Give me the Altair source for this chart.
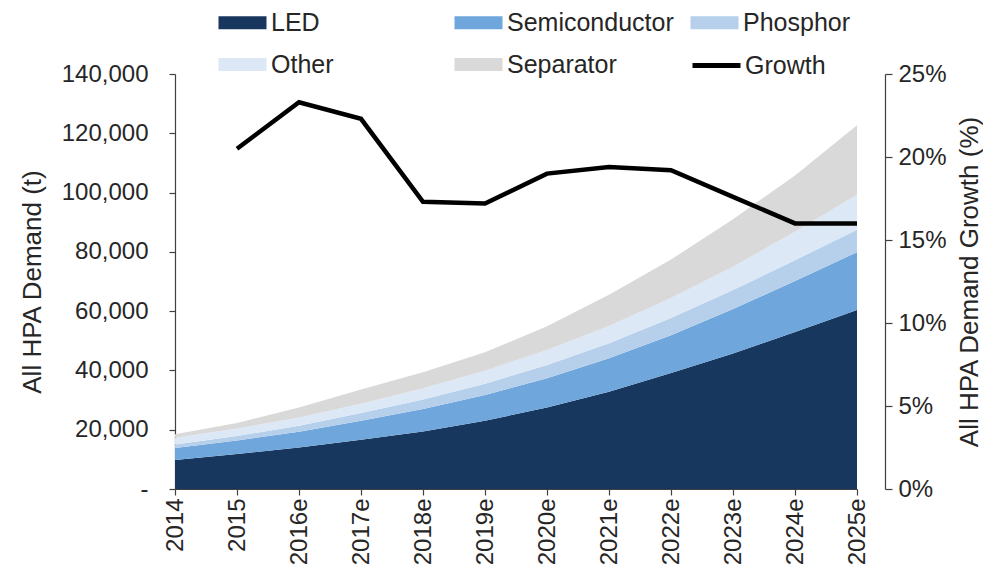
import altair as alt
import pandas as pd

years = ["2014", "2015", "2016e", "2017e", "2018e", "2019e", "2020e",
         "2021e", "2022e", "2023e", "2024e", "2025e"]
series_names = ["LED", "Semiconductor", "Phosphor", "Other", "Separator"]
led = [9800, 11800, 14000, 16600, 19400, 23000, 27500, 32800, 39100, 45700, 53000, 60400]
semiconductor = [4000, 4600, 5300, 6400, 7600, 8700, 9900, 11300, 12800, 15000, 17200, 19500]
phosphor = [1200, 1500, 2000, 2600, 3200, 3800, 4400, 5100, 5800, 6400, 7000, 7600]
other = [2300, 2500, 2800, 3200, 3800, 4400, 5100, 5800, 6700, 7900, 9600, 11800]
separator = [1200, 1900, 3400, 4800, 5400, 6200, 8000, 10500, 13000, 16000, 19000, 23400]
growth = [None, 20.5, 23.3, 22.3, 17.3, 17.2, 19.0, 19.4, 19.2, 17.6, 16.0, 16.0]
colors = ["#17375E", "#6FA6DB", "#B6D0EC", "#DCE8F6", "#D9D9D9"]

left_ticks = [0, 20000, 40000, 60000, 80000, 100000, 120000, 140000]
right_ticks = [0, 5, 10, 15, 20, 25]

values = [led, semiconductor, phosphor, other, separator]
rows = []
for i, name in enumerate(series_names):
    for y, v in zip(years, values[i]):
        rows.append({"year": y, "series": name, "value": v, "idx": i})
df_area = pd.DataFrame(rows)

df_line = pd.DataFrame(
    [{"year": y, "growth": g, "series": "Growth"} for y, g in zip(years, growth) if g is not None]
)

FONT = "Liberation Sans"
TXT = "#262626"
AX = "#404040"

x_enc = alt.X(
    "year:N",
    sort=years,
    scale=alt.Scale(type="point", padding=0, domain=years),
    axis=alt.Axis(
        title=None, labelAngle=270, labelFontSize=24, tickSize=6, labelPadding=3,
        domainColor=AX, tickColor=AX, labelColor=TXT, labelFont=FONT,
        domainWidth=1.2, tickWidth=1.2,
    ),
)

area = alt.Chart(df_area).mark_area().encode(
    x=x_enc,
    y=alt.Y(
        "value:Q",
        stack="zero",
        scale=alt.Scale(domain=[0, 140000], nice=False),
        axis=alt.Axis(
            title="All HPA Demand (t)", values=left_ticks,
            labelExpr="datum.value == 0 ? '-' : format(datum.value, ',')",
            grid=False, tickSize=6, labelPadding=21, titlePadding=16,
            titleFontSize=26, labelFontSize=24, titleFontWeight="normal",
            domainColor=AX, tickColor=AX, labelColor=TXT, titleColor=TXT,
            labelFont=FONT, titleFont=FONT, domainWidth=1.2, tickWidth=1.2,
        ),
    ),
    color=alt.Color(
        "series:N",
        scale=alt.Scale(domain=series_names, range=colors),
        legend=alt.Legend(
            title=None, orient="none", legendX=55, legendY=-64, columns=3,
            direction="horizontal", gridAlign="all", columnPadding=16, rowPadding=16,
            symbolType="M-2,-0.54L2,-0.54L2,0.54L-2,0.54Z", symbolSize=576,
            symbolStrokeWidth=0, labelFontSize=25, labelFont=FONT,
            labelColor=TXT, labelOffset=16, padding=0, labelLimit=400,
        ),
    ),
    order=alt.Order("idx:Q", sort="ascending"),
)

line = alt.Chart(df_line).mark_line(strokeWidth=4.5).encode(
    x=x_enc,
    y=alt.Y(
        "growth:Q",
        scale=alt.Scale(domain=[0, 25], nice=False),
        axis=alt.Axis(
            orient="right", offset=28, title="All HPA Demand Growth (%)",
            values=right_ticks, labelExpr="datum.value + '%'",
            grid=False, tickSize=7, labelPadding=6, titlePadding=10,
            titleAngle=270, titleBaseline="top", titleFontSize=26, labelFontSize=24,
            titleFontWeight="normal", domainColor=AX, tickColor=AX,
            labelColor=TXT, titleColor=TXT, labelFont=FONT, titleFont=FONT,
            domainWidth=1.2, tickWidth=1.2,
        ),
    ),
    stroke=alt.Stroke(
        "series:N",
        scale=alt.Scale(domain=["Growth"], range=["#000000"]),
        legend=alt.Legend(
            title=None, orient="none", legendX=515, legendY=-35,
            symbolType="stroke", symbolSize=2304, symbolStrokeWidth=5,
            labelFontSize=25, labelFont=FONT, labelColor=TXT,
            labelOffset=2, padding=0,
        ),
    ),
)

chart = (
    alt.layer(area, line)
    .resolve_scale(y="independent")
    .properties(width=682, height=415, padding={"left": 11, "top": 2, "right": 0, "bottom": 5})
    .configure_view(stroke=None)
)

chart.save("out.html", embed_options={"renderer": "svg", "actions": False})
